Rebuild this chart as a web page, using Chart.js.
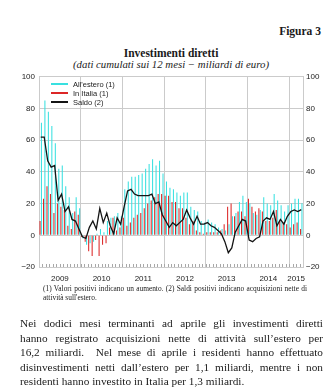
<!DOCTYPE html>
<html lang="it">
<head>
<meta charset="utf-8">
<title>Investimenti diretti</title>
<script src="https://cdn.jsdelivr.net/npm/chart.js@4.4.0/dist/chart.umd.min.js"></script>
<style>
  body { margin: 0; width: 336px; height: 388px; background: #fff; position: relative; overflow: hidden;
         font-family: "Liberation Serif", "Times New Roman", serif; color: #1a1a1a; }
  #figura { position: absolute; right: 15px; top: 25px; font-weight: bold; font-size: 11.5px; line-height: 12px; }
  #titolo { position: absolute; left: 0; width: 342px; top: 47px; text-align: center; font-weight: bold; font-size: 11.5px; line-height: 12px; }
  #sottotitolo { position: absolute; left: 0; width: 342px; top: 58.5px; text-align: center; font-style: italic; font-size: 10.8px; line-height: 11px; }
  #grafico { position: absolute; left: 0; top: 68px; width: 336px; height: 220px; }
  #legenda { position: absolute; left: 51px; top: 80px; font-family: "Liberation Sans", Arial, sans-serif; font-size: 7.5px; color: #222; }
  #legenda .voce { height: 9px; line-height: 9px; white-space: nowrap; }
  #legenda .segno { display: inline-block; width: 17px; height: 1.6px; vertical-align: middle; margin-right: 5px; position: relative; top: -1px; }
  #note { position: absolute; left: 43px; width: 264px; top: 284px; font-size: 7.4px; line-height: 9px; }
  #testo { position: absolute; left: 20px; width: 303px; top: 316px; font-size: 11.3px; line-height: 14.6px; }
  .riga { text-align: justify; text-align-last: justify; white-space: nowrap; }
  .ultima { text-align: left; text-align-last: left; white-space: nowrap; }
</style>
</head>
<body>
<div id="figura">Figura 3</div>
<div id="titolo">Investimenti diretti</div>
<div id="sottotitolo">(dati cumulati sui 12 mesi − miliardi di euro)</div>
<div id="grafico"><canvas id="investimentiChart"></canvas></div>
<div id="legenda"></div>
<div id="note">
  <div class="riga">(1) Valori positivi indicano un aumento. (2) Saldi positivi indicano acquisizioni nette di</div>
  <div class="ultima">attività sull'estero.</div>
</div>
<div id="testo">
  <div class="riga">Nei dodici mesi terminanti ad aprile gli investimenti diretti</div>
  <div class="riga">hanno registrato acquisizioni nette di attività sull’estero per</div>
  <div class="riga">16,2 miliardi.&nbsp; Nel mese di aprile i residenti hanno effettuato</div>
  <div class="riga">disinvestimenti netti dall’estero per 1,1 miliardi, mentre i non</div>
  <div class="ultima">residenti hanno investito in Italia per 1,3 miliardi.</div>
</div>
<script>
// anni sull'asse e mesi disponibili per ciascuno (2015 fino ad aprile)
var anni = ['2009', '2010', '2011', '2012', '2013', '2014', '2015'];
var mesiPerAnno = [12, 12, 12, 12, 12, 12, 4];

// investimenti all'estero dei residenti (cumulati 12 mesi)
var estero = [
  71, 85, 78, 69, 58, 42, 44, 31, 24, 14, 24, 17,
  -2, -6, -5, -4, 1, 4, 2, 9, 11, 12, 14, 12,
  29, 34, 37, 37, 38, 39, 42, 45, 48, 44, 47, 39,
  34, 30, 29, 27, 25, 27, 27, 18, 16, 15, 9, 8,
  10, 8, 7, 5, 4, 3, 7, 12, 14, 21, 25, 21,
  20, 14, 13, 16, 24, 20, 19, 26, 22, 19, 15, 19,
  20, 23, 23, 20.2
];

// investimenti dei non residenti in Italia
var italia = [
  9, 23, 31, 26, 14, 20, 18, 16, 6, 4, 15, 13,
  -1, -4, -10, -13, -3, -13, -6, -5, 5, 11, 3, 5,
  11, 6, 8, 11, 13, 14, 17, 20, 22, 24, 26, 26,
  25, 25, 21, 21, 17, 17, 11, 7, 9, 3, 2, 1,
  2, 2, 2, 2, 3, 7, 18, 20, 12, 15, 15, 12,
  23, 18, 15, 17, 15, 9, 9, 11, 16, 9, 8, 7,
  5, 7, 8, 4
];

// saldo
var saldo = [
  62, 62, 47, 43, 44, 22, 26, 15, 18, 10, 9, 4,
  -1, -2, 5, 9, 4, 17, 8, 14, 6, 1, 11, 7,
  18, 28, 29, 26, 25, 25, 25, 25, 26, 20, 21, 13,
  9, 5, 8, 6, 8, 10, 16, 11, 7, 12, 7, 7,
  8, 6, 5, 3, 1, -4, -11, -8, 2, 6, 10, 9,
  -3, -4, -2, -1, 9, 11, 10, 15, 6, 10, 7, 12,
  15, 16, 15, 16.2
];

var CIANO = '#38e0e0';
var ROSSO = '#dc2626';
var NERO = '#141414';
var GRIGIO = '#cbcbcb';
var TESTO = '#222';

// etichette mensili e posizione dell'etichetta dell'anno (a metà anno)
var mesi = [];
var etichettaAnno = {};
anni.forEach(function (anno, k) {
    etichettaAnno[mesi.length + Math.floor(mesiPerAnno[k] / 2)] = anno;
    for (var m = 1; m <= mesiPerAnno[k]; m++) {
        mesi.push(m + '/' + anno);
    }
});

// legenda dentro l'area del grafico
var voci = [
    { nome: "All'estero (1)", colore: CIANO },
    { nome: 'In Italia (1)', colore: ROSSO },
    { nome: 'Saldo (2)', colore: NERO }
];
document.getElementById('legenda').innerHTML = voci.map(function (v) {
    return '<div class="voce"><span class="segno" style="background:' + v.colore + '"></span>' + v.nome + '</div>';
}).join('');

// piccole tacche mensili sul bordo inferiore
var tacche = {
    id: 'tacche',
    afterDatasetsDraw: function (chart) {
        var x = chart.scales.x, area = chart.chartArea, c = chart.ctx;
        var passo = x.width / mesi.length;
        c.save();
        c.strokeStyle = '#a8a8a8';
        c.lineWidth = 1;
        c.beginPath();
        for (var i = 1; i < mesi.length; i++) {
            var px = Math.round(x.getPixelForValue(i) - passo / 2) + 0.5;
            c.moveTo(px, area.bottom);
            c.lineTo(px, area.bottom - 3);
        }
        c.stroke();
        c.restore();
    }
};

var fontAssi = { family: '"Liberation Sans", Arial, sans-serif', size: 8 };
var etichettaY = function (v) { return v < 0 ? '\u2212' + (-v) : v; };

var ctx = document.getElementById('investimentiChart').getContext('2d');
var investimentiChart = new Chart(ctx, {
    type: 'bar',
    data: {
        labels: mesi,
        datasets: [{
            type: 'line',
            label: 'Saldo (2)',
            data: saldo,
            borderColor: NERO,
            borderWidth: 1.3,
            pointRadius: 0,
            tension: 0,
            order: 0
        }, {
            label: 'In Italia (1)',
            data: italia,
            backgroundColor: ROSSO,
            categoryPercentage: 0.8,
            barPercentage: 0.75,
            order: 1
        }, {
            label: "All'estero (1)",
            data: estero,
            backgroundColor: CIANO,
            categoryPercentage: 0.8,
            barPercentage: 0.75,
            order: 1
        }]
    },
    options: {
        responsive: true,
        maintainAspectRatio: false,
        animation: false,
        layout: { padding: { top: 7 } },
        plugins: { legend: { display: false }, tooltip: { enabled: false } },
        scales: {
            x: {
                afterFit: function (s) { s.height = 21; },
                grid: {
                    offset: true,
                    drawTicks: false,
                    color: function (c) { return c.index % 12 === 0 ? GRIGIO : 'rgba(0,0,0,0)'; }
                },
                border: { color: GRIGIO },
                ticks: {
                    autoSkip: false,
                    maxRotation: 0,
                    minRotation: 0,
                    padding: 7,
                    labelOffset: -1.7,
                    color: TESTO,
                    font: fontAssi,
                    callback: function (v, i) { return etichettaAnno[i] || ''; }
                }
            },
            y: {
                position: 'left',
                min: -20,
                max: 100,
                afterFit: function (s) { s.width = 39; },
                grid: { color: GRIGIO, drawTicks: false },
                border: { color: GRIGIO },
                ticks: { stepSize: 20, padding: 4, color: TESTO, font: fontAssi, callback: etichettaY }
            },
            y2: {
                position: 'right',
                min: -20,
                max: 100,
                afterFit: function (s) { s.width = 33; },
                grid: { display: false, drawTicks: false },
                border: { color: GRIGIO },
                ticks: { stepSize: 20, padding: 3, color: TESTO, font: fontAssi, callback: etichettaY }
            }
        }
    },
    plugins: [tacche]
});
</script>
</body>
</html>
